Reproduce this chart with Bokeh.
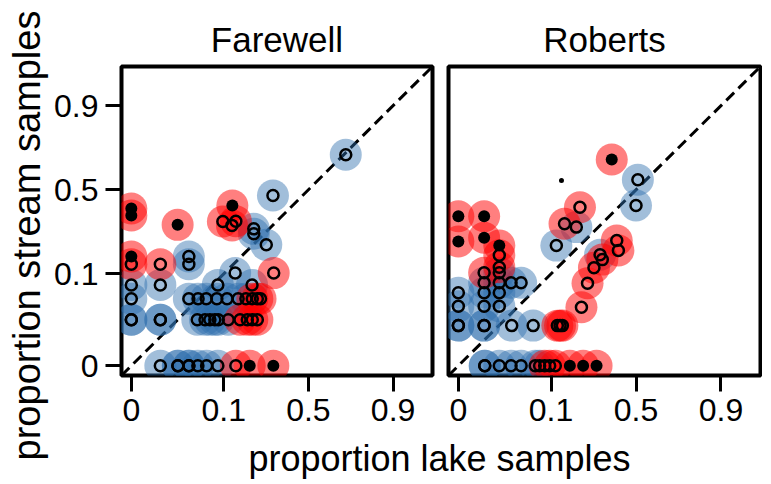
import numpy as np
from bokeh.plotting import figure
from bokeh.layouts import row, column
from bokeh.models import Range1d, FixedTicker, Slope, Label
from bokeh.embed import file_html
from bokeh.resources import INLINE

# ---------------- data (proportions) ----------------
tick_values = [0.0, 0.1, 0.5, 0.9]
tick_labels = ["0", "0.1", "0.5", "0.9"]

# Farewell
far_blue_lake = [0.725, 0.285, 0.195, 0.195, 0.251, 0.043, 0.043, 0.13,
                 0.0, 0.021, 0.087, 0.188,
                 0.0, 0.043, 0.054, 0.066, 0.085, 0.108, 0.139, 0.165,
                 0.0, 0.0, 0.021, 0.021, 0.053, 0.064, 0.072, 0.081, 0.088, 0.111,
                 0.021, 0.0327, 0.043, 0.0537, 0.0665, 0.0871, 0.0327, 0.043]
far_blue_stream = [0.714, 0.463, 0.265, 0.241, 0.192, 0.149, 0.125, 0.102,
                   0.077, 0.077, 0.077, 0.077,
                   0.055, 0.055, 0.055, 0.055, 0.055, 0.055, 0.055, 0.055,
                   0.0325, 0.0325, 0.0325, 0.0325, 0.0325, 0.0325, 0.0325, 0.0325, 0.0325, 0.0325,
                   0.0, 0.0, 0.0, 0.0, 0.0, 0.0, 0.0, 0.0]
far_red_fill_lake = [0.0, 0.0, 0.0325, 0.122, 0.0, 0.179, 0.287]
far_red_fill_stream = [0.38, 0.338, 0.286, 0.399, 0.149, 0.0, 0.0]
far_red_open_lake = [0.098, 0.121, 0.132, 0.0, 0.021, 0.289, 0.189, 0.21, 0.224,
                     0.145, 0.17, 0.189, 0.21, 0.132]
far_red_open_stream = [0.304, 0.283, 0.306, 0.125, 0.125, 0.102, 0.055, 0.055, 0.055,
                       0.0325, 0.0325, 0.0325, 0.0325, 0.0]

# Roberts
rob_blue_lake = [0.512, 0.5, 0.176, 0.113, 0.283,
                 0.0193, 0.0283, 0.038, 0.0487, 0.0283,
                 0.0, 0.0193, 0.0283,
                 0.0, 0.0193, 0.0283,
                 0.0, 0.0, 0.0193, 0.0193, 0.0386, 0.0654,
                 0.0196, 0.0196, 0.0283, 0.038, 0.0487, 0.0687, 0.0763]
rob_blue_stream = [0.565, 0.399, 0.274, 0.189, 0.155,
                   0.081, 0.081, 0.081, 0.081, 0.103,
                   0.0636, 0.0636, 0.0636,
                   0.0457, 0.0457, 0.0457,
                   0.028, 0.028, 0.028, 0.028, 0.028, 0.028,
                   0.0, 0.0, 0.0, 0.0, 0.0, 0.0, 0.0]
rob_red_fill_lake = [0.348, 0.0, 0.0193, 0.0, 0.0193, 0.0283, 0.153, 0.203, 0.265]
rob_red_fill_stream = [0.688, 0.334, 0.334, 0.206, 0.222, 0.189, 0.0, 0.0, 0.0]
rob_red_open_lake = [0.19, 0.136, 0.378, 0.388, 0.295, 0.252, 0.222, 0.196,
                     0.0283, 0.0283, 0.0193, 0.1156, 0.1229, 0.1296, 0.0861, 0.0968, 0.1104]
rob_red_open_stream = [0.388, 0.292, 0.21, 0.17, 0.139, 0.1155, 0.08, 0.0445,
                       0.153, 0.117, 0.103, 0.028, 0.028, 0.028, 0.0, 0.0, 0.0]
rob_dot_lake = [0.127]
rob_dot_stream = [0.56]

BLUE = "#2f6fad"
RED = "#ff0000"
FONT = "Liberation Sans"


def tr(p):
    pc = np.clip(np.asarray(p, dtype=float), 0.01, 0.99)
    return np.log(pc / (1 - pc))


LO, HI = -4.85, 3.22
TOP, BOT = 66, 62
FH = 309


def panel(title, blue, red_fill, red_open, dots, first):
    left_b = 70 if first else 8
    right_b = 8 if first else 2
    fw = 311 if first else 312
    p = figure(width=left_b + fw + right_b, height=TOP + FH + BOT,
               x_range=Range1d(LO, HI), y_range=Range1d(LO, HI),
               output_backend="svg", toolbar_location=None, title=title,
               min_border_top=TOP, min_border_bottom=BOT,
               min_border_left=left_b, min_border_right=right_b,
               y_axis_location="left" if first else None)
    p.title.text_font = FONT
    p.title.text_font_size = "35px"
    p.title.text_font_style = "normal"
    p.title.align = "center"
    p.title.text_color = "black"
    p.title.standoff = 15
    p.grid.visible = False
    p.outline_line_color = "black"
    p.outline_line_width = 4
    p.outline_line_alpha = 1
    p.background_fill_color = "white"
    p.border_fill_color = "white"

    ticks = [float(t) for t in tr(tick_values)]
    overrides = {t: l for t, l in zip(ticks, tick_labels)}
    for ax in p.axis:
        ax.ticker = FixedTicker(ticks=ticks)
        ax.major_label_overrides = overrides
        ax.axis_line_color = None
        ax.major_tick_out = 16
        ax.major_tick_in = 0
        ax.major_tick_line_width = 3
        ax.major_tick_line_color = "black"
        ax.minor_tick_line_color = None
        ax.major_label_text_font = FONT
        ax.major_label_text_font_size = "32px"
        ax.major_label_text_color = "black"
        ax.major_label_standoff = 7

    p.add_layout(Slope(gradient=1, y_intercept=0, line_color="black",
                       line_width=3, line_dash="11 6", level="underlay"))

    bl, bs = blue
    rfl, rfs = red_fill
    rol, ros = red_open
    p.scatter(tr(bl), tr(bs), size=32, fill_color=BLUE, fill_alpha=0.45, line_color=None)
    p.scatter(tr(rfl + rol), tr(rfs + ros), size=32, fill_color=RED, fill_alpha=0.5, line_color=None)
    p.scatter(tr(bl + rol), tr(bs + ros), size=11, fill_color=None,
              line_color="black", line_width=2.5)
    p.scatter(tr(rfl), tr(rfs), size=12, fill_color="black", line_color=None)
    if dots:
        p.scatter(tr(dots[0]), tr(dots[1]), size=5, fill_color="black", line_color=None)
    return p


def strip(w, h):
    s = figure(width=w, height=h, output_backend="svg", toolbar_location=None,
               x_range=Range1d(0, w), y_range=Range1d(0, h),
               x_axis_location=None, y_axis_location=None,
               min_border_left=0, min_border_right=0,
               min_border_top=0, min_border_bottom=0)
    s.outline_line_color = None
    s.grid.visible = False
    s.border_fill_color = "white"
    s.background_fill_color = "white"
    return s


left = panel("Farewell", (far_blue_lake, far_blue_stream),
             (far_red_fill_lake, far_red_fill_stream),
             (far_red_open_lake, far_red_open_stream), None, True)
right = panel("Roberts", (rob_blue_lake, rob_blue_stream),
              (rob_red_fill_lake, rob_red_fill_stream),
              (rob_red_open_lake, rob_red_open_stream),
              (rob_dot_lake, rob_dot_stream), False)

PW = left.width + right.width
PH = TOP + FH + BOT
XH = 484 - PH
YW = 51

xstrip = strip(PW, XH)
xstrip.add_layout(Label(x=388, y=26, text="proportion lake samples",
                        text_font=FONT, text_font_size="36px",
                        text_align="center", text_baseline="middle",
                        text_color="black"))

ystrip = strip(YW, PH + XH)
ystrip.add_layout(Label(x=26, y=PH + XH - 235, text="proportion stream samples",
                        angle=np.pi / 2,
                        text_font=FONT, text_font_size="38px",
                        text_align="center", text_baseline="middle",
                        text_color="black"))

layout = row(ystrip, column(row(left, right), xstrip))

with open("out.html", "w") as f:
    f.write(file_html(layout, INLINE))
